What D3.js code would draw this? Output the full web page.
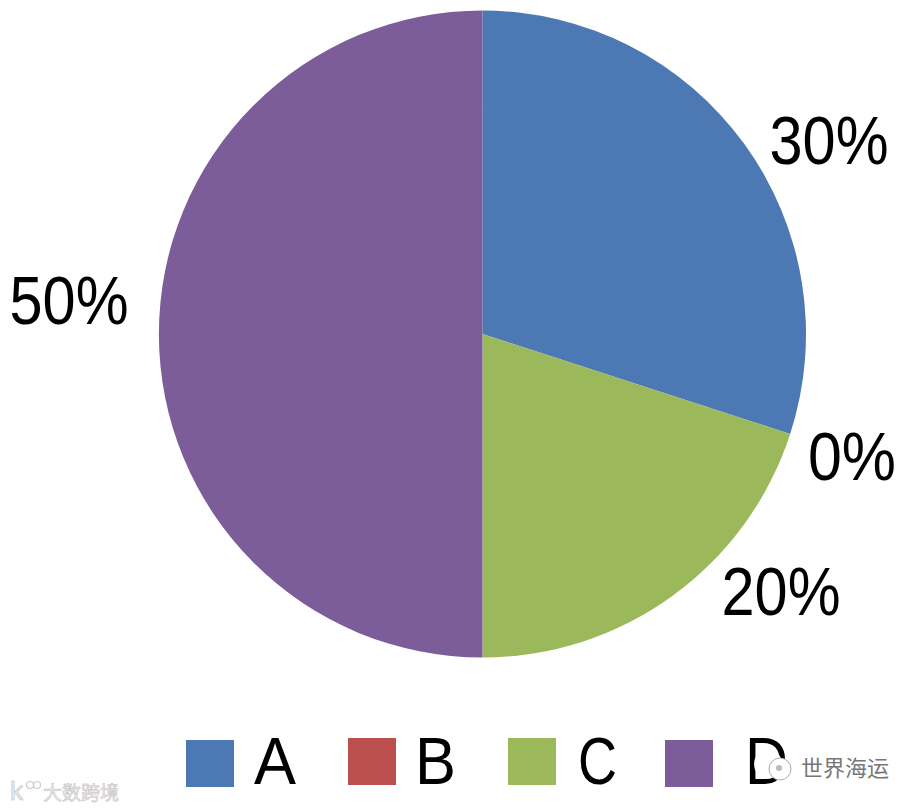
<!DOCTYPE html>
<html><head><meta charset="utf-8"><script src="https://cdn.jsdelivr.net/npm/d3@7"></script>
<style>html,body{margin:0;background:#fff}svg{display:block}text{font-family:"Liberation Sans",Arial,sans-serif;fill:#000}</style></head>
<body><svg id="c" width="917" height="809"></svg>
<script>
const categories=["A","B","C","D"];
const values=[30,0,20,50];
const colors=["#4c79b4","#bb4f4d","#9bb85a","#7c5c99"];
const labelTexts=["30%","0%","20%","50%"];
const labelCenters=[[829,139],[852,455],[781,590],[69,299]];
const labelWidths=[119,88,119,119];
const legendX=[186,348,508,665];
const legendY=[740,738,738,740];
const legendTextX=[254,415,578,745];
const legendTextW=[42,41,39,43];
const svg=d3.select("#c");
const cx=482.5,cy=334,r=323.5;
const pie=d3.pie().sort(null).value(d=>d)(values);
const arc=d3.arc().innerRadius(0).outerRadius(r);
svg.append("g").attr("transform",`translate(${cx},${cy})`).selectAll("path").data(pie).join("path").attr("d",arc).attr("fill",(d,i)=>colors[i]);
svg.append("g").selectAll("text").data(labelTexts).join("text")
 .attr("x",(d,i)=>labelCenters[i][0]-labelWidths[i]/2).attr("y",(d,i)=>labelCenters[i][1]+25)
 .attr("textLength",(d,i)=>labelWidths[i]).attr("lengthAdjust","spacingAndGlyphs")
 .attr("font-size",69).text(d=>d);
const lg=svg.append("g").selectAll("g").data(categories).join("g");
lg.append("rect").attr("x",(d,i)=>legendX[i]).attr("y",(d,i)=>legendY[i]).attr("width",48).attr("height",47).attr("fill",(d,i)=>colors[i]);
lg.append("text").attr("x",(d,i)=>legendTextX[i]).attr("y",784).attr("textLength",(d,i)=>legendTextW[i]).attr("lengthAdjust","spacingAndGlyphs").attr("font-size",67).text(d=>d);
// watermarks
const wm=svg.append("g");
wm.append("ellipse").attr("cx",768).attr("cy",764).attr("rx",14).attr("ry",15).attr("fill","#fff").attr("fill-opacity",.92);
wm.append("circle").attr("cx",780).attr("cy",769).attr("r",11).attr("fill","#fff").attr("stroke","#aaa").attr("stroke-width",1);
wm.append("circle").attr("cx",779).attr("cy",768).attr("r",3).attr("fill","#bbb");
wm.append("text").attr("x",801).attr("y",776).attr("font-size",22).style("font-family",'"Noto Sans CJK SC"').style("fill","#777").text("世界海运");
wm.append("text").attr("x",43).attr("y",800).attr("font-size",19).style("font-family",'"Noto Sans CJK SC"').style("fill","#eee").attr("stroke","#bbb").attr("stroke-width",.5).text("大数跨境");
wm.append("text").attr("x",10).attr("y",800).attr("font-size",26).style("fill","#eee").attr("stroke","#bbb").attr("stroke-width",.6).text("k");
wm.append("circle").attr("cx",30).attr("cy",785).attr("r",3.5).attr("fill","none").attr("stroke","#ccc").attr("stroke-width",1.2);
wm.append("circle").attr("cx",37).attr("cy",785).attr("r",3.5).attr("fill","none").attr("stroke","#ccc").attr("stroke-width",1.2);
</script></body></html>
